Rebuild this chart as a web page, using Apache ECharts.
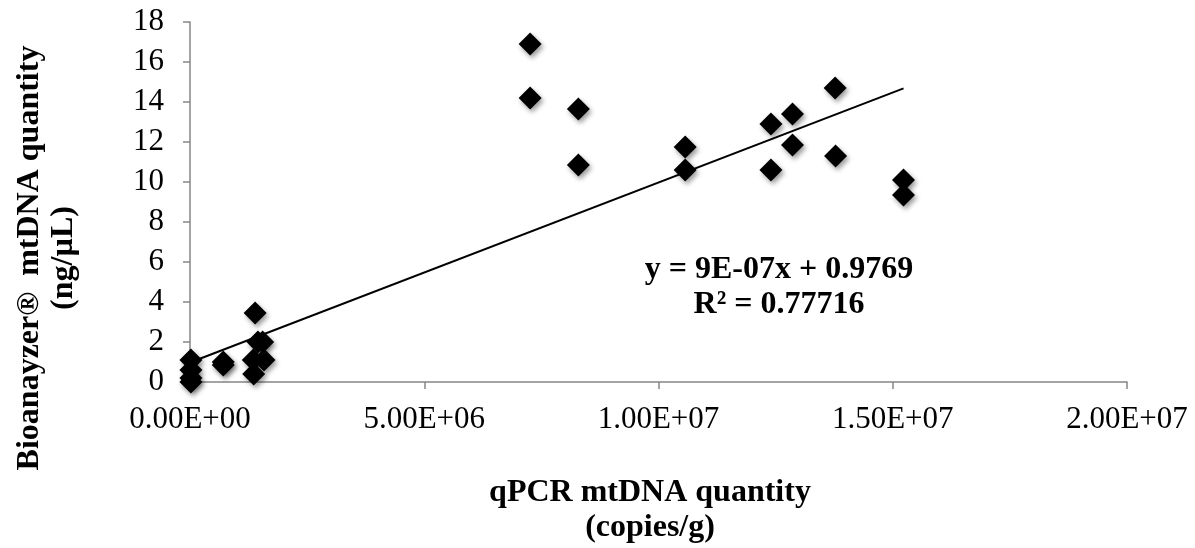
<!DOCTYPE html>
<html><head><meta charset="utf-8">
<script src="https://cdn.jsdelivr.net/npm/echarts@6/dist/echarts.min.js"></script>
<style>html,body{margin:0;padding:0;background:#fff}#c{width:1195px;height:548px}</style>
</head><body><div id="c"></div>
<script>
const qpcrX = [0.02e6, 0.02e6, 0.02e6, 0.02e6, 0.71e6, 0.71e6, 1.39e6, 1.45e6, 1.35e6, 1.36e6, 1.55e6, 1.58e6,
  7.26e6, 7.26e6, 8.29e6, 8.29e6, 10.57e6, 10.57e6, 12.4e6, 12.4e6, 12.86e6, 12.86e6, 13.78e6, 13.77e6, 15.23e6, 15.23e6];
const bioY = [1.1, 0.6, 0.2, 0.0, 1.0, 0.85, 3.45, 2.0, 1.1, 0.4, 2.0, 1.1,
  16.9, 14.2, 13.65, 10.85, 11.75, 10.6, 12.9, 10.6, 13.4, 11.85, 11.3, 14.7, 10.1, 9.35];
const trendSlope = 9e-7;
const trendIntercept = 0.9769;
const eqLine1 = 'y = 9E-07x + 0.9769';
const eqLine2 = 'R² = 0.77716';
const xTitle1 = 'qPCR mtDNA quantity';
const xTitle2 = '(copies/g)';
const yTitle1 = 'Bioanayzer®  mtDNA quantity';
const yTitle2 = '(ng/µL)';

const pts = qpcrX.map((x, i) => [x, bioY[i]]);
const xMax = Math.max(...qpcrX);
const trend = [[0, trendIntercept], [xMax, trendSlope * xMax + trendIntercept]];

function sci(v) {
  if (v === 0) return '0.00E+00';
  const e = Math.floor(Math.log10(Math.abs(v)));
  const m = v / Math.pow(10, e);
  return m.toFixed(2) + 'E' + (e >= 0 ? '+' : '-') + String(Math.abs(e)).padStart(2, '0');
}

const font = '"Liberation Serif", "Times New Roman", serif';
const FS = 31;
const chart = echarts.init(document.getElementById('c'), null, {renderer: 'canvas'});
chart.setOption({
  animation: false,
  backgroundColor: '#fff',
  grid: {left: 190, right: 68, top: 22, bottom: 166, containLabel: false},
  xAxis: {
    type: 'value', min: 0, max: 2e7, interval: 5e6,
    axisLine: {show: true, lineStyle: {color: '#868686', width: 1.5}},
    axisTick: {show: true, length: 7, lineStyle: {color: '#868686', width: 1.5}},
    splitLine: {show: false},
    axisLabel: {formatter: sci, fontFamily: font, fontSize: FS, color: '#000', margin: 22}
  },
  yAxis: {
    type: 'value', min: 0, max: 18, interval: 2,
    axisLine: {show: true, lineStyle: {color: '#868686', width: 1.5}},
    axisTick: {show: true, length: 7, lineStyle: {color: '#868686', width: 1.5}},
    splitLine: {show: false},
    axisLabel: {fontFamily: font, fontSize: FS, color: '#000', margin: 26}
  },
  series: [
    {
      type: 'line', data: trend, showSymbol: false, symbol: 'none', z: 3,
      lineStyle: {color: '#000', width: 2}
    },
    {
      type: 'scatter', data: pts, symbol: 'diamond', symbolSize: 23, z: 4,
      itemStyle: {color: '#000', opacity: 1, shadowBlur: 5, shadowColor: 'rgba(0,0,0,0.4)', shadowOffsetX: 2, shadowOffsetY: 3}
    }
  ],
  graphic: [
    {type: 'text', style: {text: eqLine1, font: 'bold 32px ' + font, fill: '#000', align: 'center', verticalAlign: 'middle', x: 779, y: 270}},
    {type: 'text', style: {text: eqLine2, font: 'bold 32px ' + font, fill: '#000', align: 'center', verticalAlign: 'middle', x: 779, y: 305}},
    {type: 'text', style: {text: xTitle1, font: 'bold 32px ' + font, fill: '#000', align: 'center', verticalAlign: 'middle', x: 650, y: 493}},
    {type: 'text', style: {text: xTitle2, font: 'bold 32px ' + font, fill: '#000', align: 'center', verticalAlign: 'middle', x: 650, y: 528}},
    {type: 'text', rotation: Math.PI / 2, x: 30, y: 258, style: {text: yTitle1, font: 'bold 32px ' + font, fill: '#000', align: 'center', verticalAlign: 'middle'}},
    {type: 'text', rotation: Math.PI / 2, x: 64, y: 258, style: {text: yTitle2, font: 'bold 32px ' + font, fill: '#000', align: 'center', verticalAlign: 'middle'}}
  ]
});
</script></body></html>
